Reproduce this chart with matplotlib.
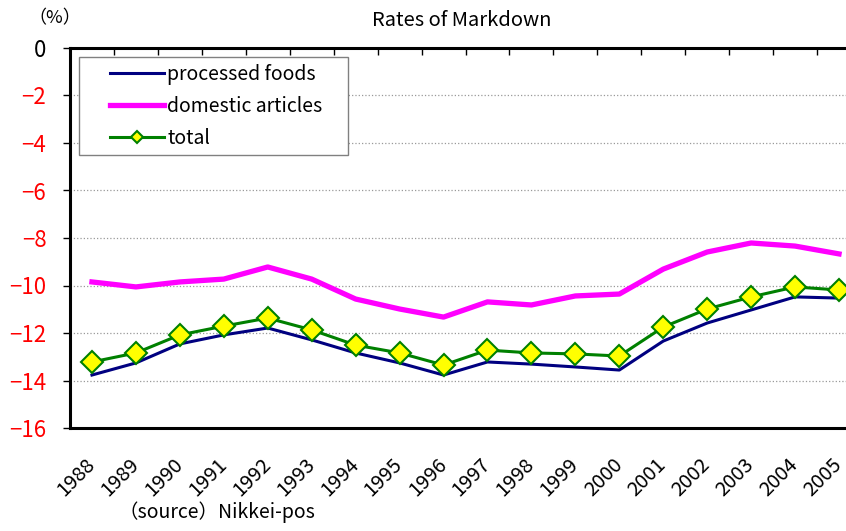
import matplotlib.pyplot as plt
from matplotlib.legend_handler import HandlerLine2D
import numpy as np

plt.rcParams['font.family'] = ['Noto Sans CJK JP', 'DejaVu Sans']

# data
years = ['1988', '1989', '1990', '1991', '1992', '1993', '1994', '1995', '1996',
         '1997', '1998', '1999', '2000', '2001', '2002', '2003', '2004', '2005']
processed = [-13.77, -13.26, -12.46, -12.08, -11.79, -12.29, -12.84, -13.26, -13.77,
             -13.22, -13.31, -13.43, -13.56, -12.34, -11.58, -11.03, -10.48, -10.53]
domestic = [-9.85, -10.06, -9.85, -9.73, -9.22, -9.73, -10.57, -10.99, -11.33,
            -10.69, -10.82, -10.44, -10.36, -9.31, -8.59, -8.21, -8.34, -8.67]
total = [-13.22, -12.84, -12.08, -11.71, -11.37, -11.87, -12.51, -12.84, -13.35,
         -12.72, -12.84, -12.88, -12.97, -11.75, -10.99, -10.48, -10.06, -10.19]
yticks = [0, -2, -4, -6, -8, -10, -12, -14, -16]

fig = plt.figure(figsize=(8.46, 5.31), dpi=100)
ax = fig.add_axes([70/846, 1-428/531, (861-70)/846, (428-48)/531])

x = np.arange(len(years))
l1, = ax.plot(x, processed, color='#000080', lw=2.2, label='processed foods')
l2, = ax.plot(x, domestic, color='#FF00FF', lw=3.8, label='domestic articles')
l3, = ax.plot(x, total, color='#008000', lw=2.2, marker='D', markersize=11,
              markerfacecolor='#FFFF00', markeredgecolor='#008000', markeredgewidth=1.5,
              label='total')

ax.set_xlim(-0.5, len(years)-0.5)
ax.set_ylim(-16, 0)
ax.set_yticks(yticks)
ax.set_yticklabels([str(v) if v == 0 else '\u2212' + str(-v) for v in yticks], fontsize=16)
for lab, v in zip(ax.get_yticklabels(), yticks):
    lab.set_color('black' if v == 0 else 'red')
ax.tick_params(axis='y', direction='out', length=5, width=1, pad=12)

ax.set_xticks(x)
ax.set_xticks(np.arange(len(years)+1) - 0.5, minor=True)
ax.set_xticklabels(years, rotation=45, ha='right', va='center',
                   rotation_mode='anchor', fontsize=14.5)
ax.tick_params(axis='x', which='major', length=0, pad=24)
ax.tick_params(axis='x', which='minor', top=True, bottom=False, direction='in',
               length=5, width=1)

ax.grid(axis='y', linestyle=':', color='#999999', lw=0.9)
for s in ['left', 'top', 'bottom']:
    ax.spines[s].set_linewidth(2.2)
ax.spines['right'].set_visible(False)

fs = 14
hmap = {l: HandlerLine2D(xpad=1.25) for l in (l1, l2, l3)}
leg = ax.legend(loc='upper left', bbox_to_anchor=(9/791, 1-9/380, (348-79)/791, 0),
                mode='expand', fontsize=fs, handler_map=hmap, markerscale=0.55,
                handlelength=4.0, labelspacing=0.56, handletextpad=0.2,
                borderaxespad=0, fancybox=False, framealpha=1, edgecolor='#808080',
                borderpad=0.35)
leg.get_frame().set_linewidth(1.0)

fig.text(462/846, 1-20/531, 'Rates of Markdown', ha='center', va='center', fontsize=14.5)
fig.text(55/846, 1-18/531, '（%）', ha='center', va='center', fontsize=13)
fig.text(118/846, 1-512/531, '（source）Nikkei-pos', ha='left', va='center', fontsize=14)

fig.savefig('out.png', dpi=100)
